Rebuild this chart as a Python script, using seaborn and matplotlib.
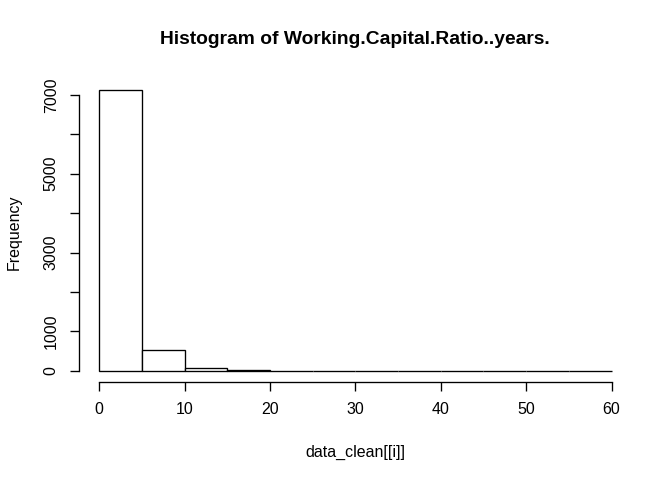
import numpy as np
import pandas as pd
import matplotlib
matplotlib.use("Agg")
import matplotlib.pyplot as plt
import seaborn as sns

# Data: histogram bins (edges) and counts
bin_edges = [0, 5, 10, 15, 20, 25, 30, 35, 40, 45, 50, 55, 60]
bin_counts = [7127, 525, 76, 25, 3, 2, 1, 1, 0, 1, 0, 1]
x_ticks = [0, 10, 20, 30, 40, 50, 60]
y_ticks = [0, 1000, 2000, 3000, 4000, 5000, 6000, 7000]
y_tick_labels = ["0", "1000", "", "3000", "", "5000", "", "7000"]
title = "Histogram of Working.Capital.Ratio..years."
xlabel = "data_clean[[i]]"
ylabel = "Frequency"

sns.set_theme(style="white")
plt.rcParams['font.family'] = ['Liberation Sans', 'DejaVu Sans']

W, H, DPI = 672, 480, 96
fig = plt.figure(figsize=(W / DPI, H / DPI), dpi=DPI)
left, right, bottom, top = 78.7, 632.0, 98.0, 78.7
ax = fig.add_axes([left / W, bottom / H, (right - left) / W, (H - top - bottom) / H])

centers = [(bin_edges[i] + bin_edges[i + 1]) / 2 for i in range(len(bin_counts))]
df = pd.DataFrame({"x": centers, "w": bin_counts})
sns.histplot(data=df, x="x", weights="w", bins=bin_edges, ax=ax,
             color="white", edgecolor="black", linewidth=1.0, alpha=1.0)

xr = bin_edges[-1] - bin_edges[0]
ax.set_xlim(bin_edges[0] - 0.04 * xr, bin_edges[-1] + 0.04 * xr)
ymax = max(bin_counts)
ax.set_ylim(-0.04 * ymax, ymax * 1.04)

for s in ["top", "right"]:
    ax.spines[s].set_visible(False)
for s in ["left", "bottom"]:
    ax.spines[s].set_color("black")
    ax.spines[s].set_linewidth(1.0)
ax.spines["bottom"].set_bounds(x_ticks[0], x_ticks[-1])
ax.spines["left"].set_bounds(y_ticks[0], y_ticks[-1])

ax.set_xticks(x_ticks)
ax.set_xticklabels([str(t) for t in x_ticks])
ax.set_yticks(y_ticks)
ax.set_yticklabels(y_tick_labels, rotation=90, va="center")
ax.tick_params(axis="both", direction="out", length=7, width=1.0, color="black",
               labelsize=12, labelcolor="black", bottom=True, left=True)
ax.tick_params(axis="x", pad=8)
ax.tick_params(axis="y", pad=8)
ax.set_xlabel("")
ax.set_ylabel("")
ax.grid(False)

fig.text((left + right) / 2 / W, 1 - 40 / H, title, ha="center", va="center",
         fontsize=14.4, fontweight="bold", color="black")
fig.text((left + right) / 2 / W, 1 - 452 / H, xlabel, ha="center", va="center",
         fontsize=12, color="black")
fig.text(14 / W, 1 - (94 + 370) / 2 / H, ylabel, ha="center", va="center",
         rotation=90, fontsize=12, color="black")

fig.savefig("out.png", dpi=DPI)
